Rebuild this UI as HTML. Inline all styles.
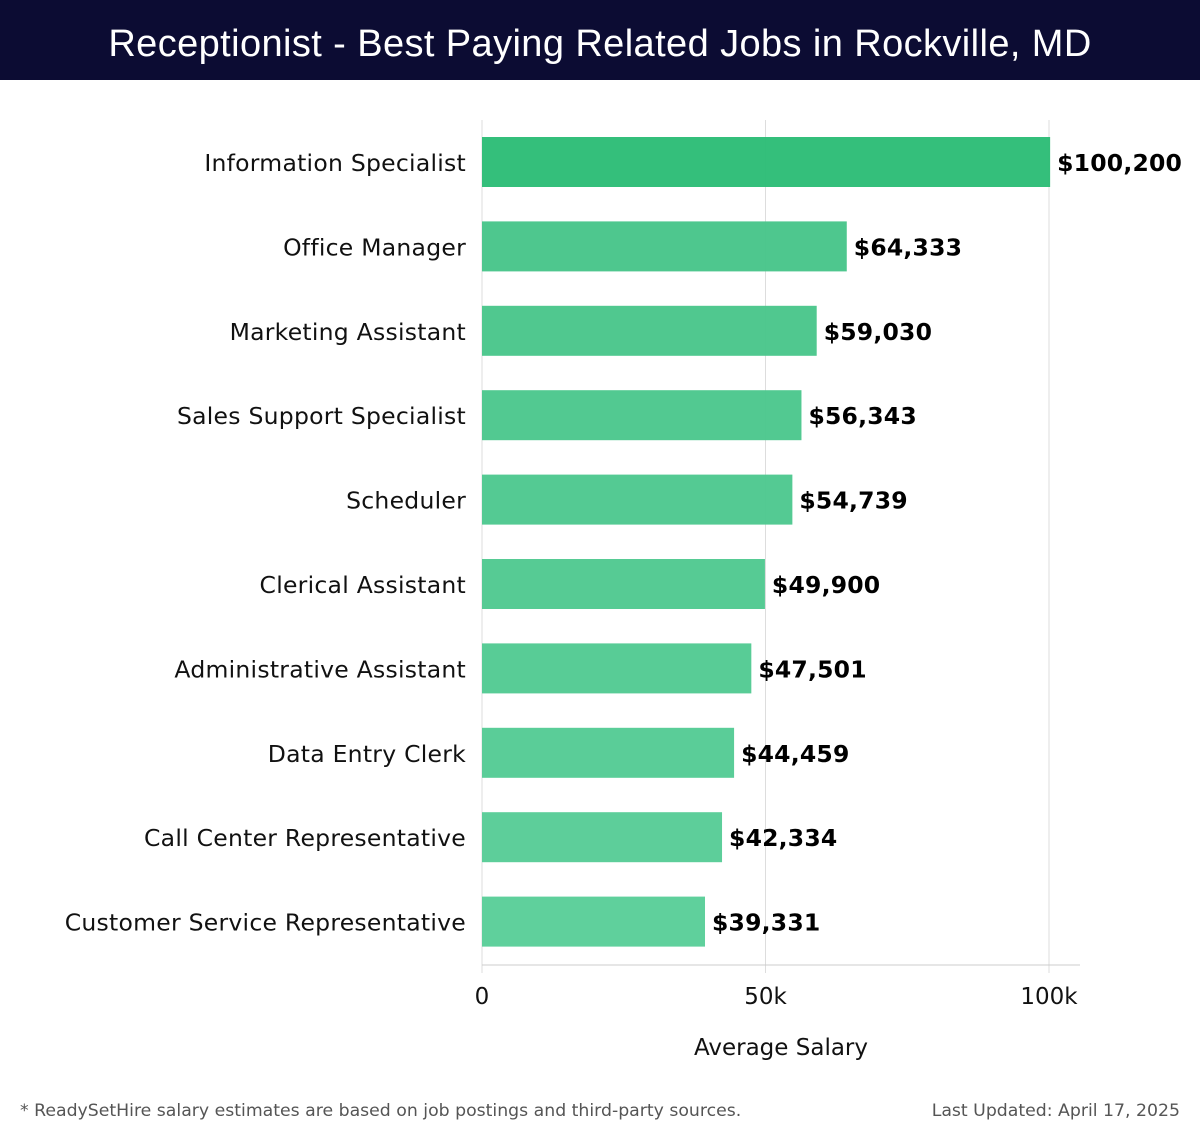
<!DOCTYPE html>
<html><head><meta charset="utf-8"><style>
body{margin:0;width:1200px;height:1140px;background:#fff;font-family:"DejaVu Sans","Liberation Sans",sans-serif;overflow:hidden}
#title{position:absolute;left:0;top:0;width:1200px;height:80px;background:#0c0c33;color:#fff;font-size:38px;text-align:center;line-height:88px;font-family:"Liberation Sans","DejaVu Sans",sans-serif;letter-spacing:0.4px}
.foot{position:absolute;top:1101px;font-size:17.3px;color:#555;font-family:"DejaVu Sans",sans-serif}
</style></head><body>
<div id="title">Receptionist - Best Paying Related Jobs in Rockville, MD</div>
<svg id="chart" width="1200" height="1140" style="position:absolute;left:0;top:0"></svg>
<div class="foot" style="left:20px">* ReadySetHire salary estimates are based on job postings and third-party sources.</div>
<div class="foot" style="right:20px">Last Updated: April 17, 2025</div>
<script>
const categories=["Information Specialist","Office Manager","Marketing Assistant","Sales Support Specialist","Scheduler","Clerical Assistant","Administrative Assistant","Data Entry Clerk","Call Center Representative","Customer Service Representative"];
const values=[100200,64333,59030,56343,54739,49900,47501,44459,42334,39331];
const labels=["$100,200","$64,333","$59,030","$56,343","$54,739","$49,900","$47,501","$44,459","$42,334","$39,331"];
const ticks=[0,50000,100000];
const tickLabels=["0","50k","100k"];
const NS="http://www.w3.org/2000/svg";
const svg=document.getElementById('chart');
const x0=482,x1=1049,yTop=120,yBot=965,step=84.4,firstC=162,bh=50;
const xs=v=>x0+(v/100000)*(x1-x0);
const yc=i=>firstC+i*step;
function mk(t,a,txt){const e=document.createElementNS(NS,t);for(const k in a)e.setAttribute(k,a[k]);if(txt!==undefined)e.textContent=txt;svg.appendChild(e);return e;}
ticks.forEach((t,i)=>{
 const g=mk('line',{x1:xs(t),x2:xs(t),y1:yTop,y2:yBot+8,stroke:'#ddd','stroke-width':1});
 
 
 const l=mk('text',{x:xs(t),y:1004,'text-anchor':'middle','font-size':23,fill:'#111'},tickLabels[i]);
 
 
});
const ax=mk('line',{x1:x0,x2:1080,y1:yBot,y2:yBot,stroke:'#ccc','stroke-width':1});


const at=mk('text',{x:781,y:1055,'text-anchor':'middle','font-size':23,fill:'#111'},'Average Salary');


const colors=['#2dbd77','#48c58a','#4ac68b','#4cc78d','#4ec88f','#51c991','#53ca93','#55cb95','#58cc97','#5ace99'];
categories.forEach((c,i)=>{
 const y=yc(i);
 const r=mk('rect',{x:x0,y:y-bh/2,width:xs(values[i])-x0,height:bh,fill:colors[i],'fill-opacity':0.97});
 
 
 const cl=mk('text',{x:466,y:y+9,'text-anchor':'end','font-size':23.5,'letter-spacing':'0.25',fill:'#111'},c);
 
 
 const vl=mk('text',{x:xs(values[i])+7,y:y+9,'font-size':23.5,'font-weight':'bold','letter-spacing':'0.2',fill:'#000'},labels[i]);
 
 
});
</script>
</body></html>
